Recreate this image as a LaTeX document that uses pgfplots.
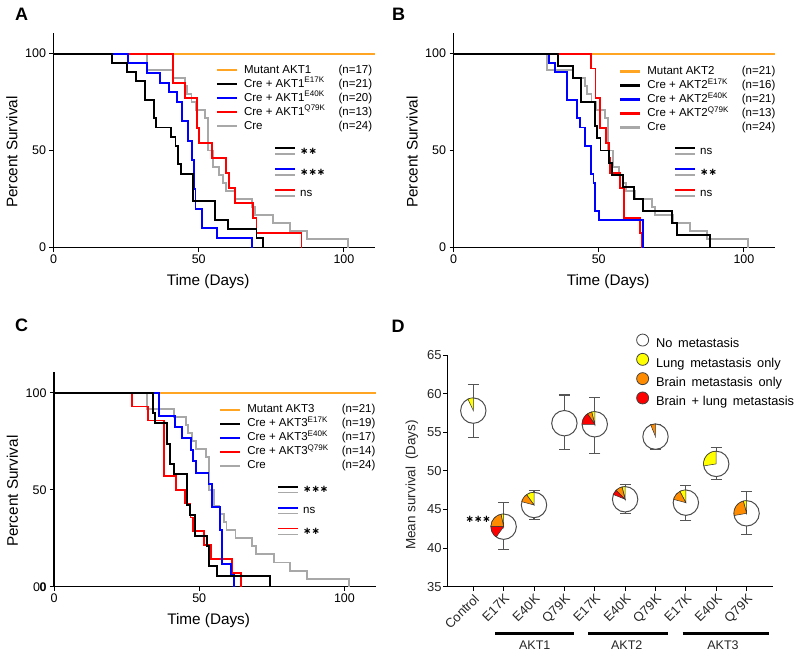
\documentclass[border=0pt]{standalone}
\usepackage{pgfplots}
\pgfplotsset{compat=1.18}
\usepackage{pgfplotstable}
\usepackage{fontspec}
\setmainfont{Liberation Sans}
\newfontfamily\djv{DejaVu Sans}

\definecolor{mutOrange}{RGB}{255,165,35}
\definecolor{creGrey}{RGB}{168,168,168}
\definecolor{kmBlue}{RGB}{0,0,255}
\definecolor{kmRed}{RGB}{255,0,0}
\definecolor{pieYellow}{RGB}{255,255,0}
\definecolor{pieOrange}{RGB}{255,140,0}
\definecolor{pieRed}{RGB}{255,0,0}
\definecolor{barGrey}{RGB}{85,85,85}

\newcommand\stars[1]{{\djv\bfseries\fontsize{10bp}{12bp}\selectfont #1}}
\newcommand\sig[1]{{\fontsize{11.5bp}{13bp}\selectfont #1}}

\pgfdeclareplotmark{blank}{}

\pgfplotsset{
  km/.style={
    scale only axis, width=321.5bp, height=214.5bp,
    xmin=0, xmax=110.7, ymin=0, ymax=110.6,
    axis lines*=left, axis line style={line width=1.5bp,-},
    xtick={0,50,100}, ytick={0,50,100},
    tick align=outside, major tick length=4bp,
    tick style={line width=1bp,black},
    tick label style={font=\fontsize{12.5bp}{14bp}\selectfont},
    /pgf/number format/assume math mode=true,
    xlabel={Time (Days)}, ylabel={Percent Survival},
    label style={font=\fontsize{15.3bp}{17bp}\selectfont},
    xlabel style={at={(axis description cs:0.481,-0.159)},anchor=center},
    ylabel style={at={(axis description cs:-0.129,0.445)},anchor=center},
    clip=false,
    legend cell align=left,
    legend image code/.code={\draw[##1, line width=2.2bp] (0bp,0bp) -- (20bp,0bp);},
    legend style={anchor=north west, draw=none, fill=none, inner sep=0pt,
      font=\fontsize{11.5bp}{13bp}\selectfont, /tikz/column sep=5bp,
      nodes={inner sep=1bp, text height=9bp, text depth=3bp}},
  },
  curve/.style={const plot, line width=1.9bp, forget plot},
  wedge/.style={
    forget plot, only marks, scatter, mark=blank, point meta=y,
    visualization depends on={\thisrow{a}\as\wa},
    visualization depends on={\thisrow{b}\as\wb},
    scatter/@pre marker code/.code={%
      \pgfmathsetmacro\wA{\wa}\pgfmathsetmacro\wB{\wb}%
      \filldraw[fill=#1, draw=black!80, line width=0.5bp]
        (0bp,0bp) -- ({\wA}:12.7bp) arc[start angle=\wA, end angle=\wB, radius=12.7bp] -- cycle;},
    scatter/@post marker code/.code={},
  },
}

% panel D: mean survival with error bars
\pgfplotstableread{
x y ep em
1 57.80 3.40 3.45
2 42.77 3.10 2.90
3 45.58 1.90 1.85
4 56.17 3.65 3.40
5 56.03 3.50 3.75
6 46.32 1.95 1.80
7 54.43 1.60 1.60
8 45.88 2.25 2.25
9 50.90 2.15 2.00
10 44.50 2.80 2.70
}\meanData

% wedge start/end angles (degrees)
\pgfplotstableread{
x y a b
1 57.80 90 115
2 42.77 90 102
3 45.58 90 126
5 56.03 90 104
6 46.32 90 104
8 45.88 90 118
9 50.90 90 189
10 44.50 90 105
}\lungOnly
\pgfplotstableread{
x y a b
2 42.77 102 178
3 45.58 126 165
5 56.03 104 125
6 46.32 104 135
7 54.43 91 112
8 45.88 118 165
10 44.50 105 190
}\brainOnly
\pgfplotstableread{
x y a b
2 42.77 178 234
5 56.03 125 180
6 46.32 135 158
}\brainLung

\begin{document}
\begin{tikzpicture}
\path[use as bounding box] (0,0) rectangle (800bp,-656bp);

% ---------------- A ----------------
\begin{axis}[km, at={(53.5bp,-247.5bp)}, anchor=south west,
  legend style={at={(axis description cs:0.5045,0.861)}}]
\addlegendimage{mutOrange}
\addlegendentry{\makebox[94.5bp][l]{Mutant AKT1}(n=17)}
\addlegendimage{black}
\addlegendentry{\makebox[94.5bp][l]{Cre + AKT1\textsuperscript{E17K}}(n=21)}
\addlegendimage{kmBlue}
\addlegendentry{\makebox[94.5bp][l]{Cre + AKT1\textsuperscript{E40K}}(n=20)}
\addlegendimage{kmRed}
\addlegendentry{\makebox[94.5bp][l]{Cre + AKT1\textsuperscript{Q79K}}(n=13)}
\addlegendimage{creGrey}
\addlegendentry{\makebox[94.5bp][l]{Cre}(n=24)}
\addplot[curve, mutOrange, line width=2bp] coordinates {(0,100)(110.7,100)};
\addplot[curve, creGrey] coordinates {(0,100)(32.1,91.7)(41.2,87.5)(45.3,83.3)(46,79.2)(47.5,75)(49,70.8)(52.2,66.7)(53.3,50)(55,41.7)(57,37.5)(58.5,33.3)(59.4,29.2)(62.5,25)(68.2,20.8)(69.4,16.7)(75.7,12.5)(81.4,8.3)(87.2,4.2)(101.5,0)};
\addplot[curve, kmRed] coordinates {(0,100)(41.3,84.6)(45.4,76.9)(49.3,61.5)(50,53.8)(54.5,46.2)(59.5,38.5)(60.4,30.8)(62.5,23.1)(68.8,15.4)(69.9,7.7)(85.4,0)};
\addplot[curve, kmBlue] coordinates {(0,100)(25.8,95)(32.1,90)(36.8,85)(39.8,80)(42.4,75)(44.3,65)(46.4,55)(47.6,45)(48.3,30)(48.9,20)(51,10)(56.2,5)(68.2,0)};
\addplot[curve, black] coordinates {(0,100)(20.1,95.2)(25.2,90.5)(28.4,85.7)(31.5,76.2)(34.6,66.7)(35.3,61.9)(40.5,57.1)(42,52.4)(43,42.9)(43.9,38.1)(48.1,23.8)(55.6,14.3)(60,9.5)(69.9,4.8)(72.2,0)};
\end{axis}

% ---------------- B ----------------
\begin{axis}[km, at={(453.5bp,-247.5bp)}, anchor=south west,
  legend style={at={(axis description cs:0.5148,0.854)}}]
\addlegendimage{mutOrange}
\addlegendentry{\makebox[94.5bp][l]{Mutant AKT2}(n=21)}
\addlegendimage{black}
\addlegendentry{\makebox[94.5bp][l]{Cre + AKT2\textsuperscript{E17K}}(n=16)}
\addlegendimage{kmBlue}
\addlegendentry{\makebox[94.5bp][l]{Cre + AKT2\textsuperscript{E40K}}(n=21)}
\addlegendimage{kmRed}
\addlegendentry{\makebox[94.5bp][l]{Cre + AKT2\textsuperscript{Q79K}}(n=13)}
\addlegendimage{creGrey}
\addlegendentry{\makebox[94.5bp][l]{Cre}(n=24)}
\addplot[curve, mutOrange, line width=2bp] coordinates {(0,100)(110.7,100)};
\addplot[curve, creGrey] coordinates {(0,100)(32.1,91.7)(41.2,87.5)(45.3,83.3)(46,79.2)(47.5,75)(49,70.8)(52.2,66.7)(53.3,50)(55,41.7)(57,37.5)(58.5,33.3)(59.4,29.2)(62.5,25)(68.2,20.8)(69.4,16.7)(75.7,12.5)(81.4,8.3)(87.2,4.2)(101.5,0)};
\addplot[curve, kmRed] coordinates {(0,100)(47.3,92.3)(48.9,76.9)(50.3,61.5)(52.6,53.8)(53.4,46.2)(54,38.5)(57.4,30.8)(58.8,15.4)(64.1,7.7)(64.9,0)};
\addplot[curve, kmBlue] coordinates {(0,100)(32.8,95.2)(34.8,90.5)(39,76.2)(42.4,66.7)(43.6,61.9)(45.3,52.4)(47.4,38.1)(48.2,33.3)(48.8,19)(50.2,14.3)(65.2,0)};
\addplot[curve, black] coordinates {(0,100)(36.1,93.75)(41.2,87.5)(44,75)(48.8,62.5)(49.4,56.25)(50.6,50)(53.4,43.75)(54.5,37.5)(58.4,31.25)(62,25)(65.2,18.75)(75.2,12.5)(77,6.25)(88.2,0)};
\end{axis}

% ---------------- C ----------------
\begin{axis}[km, at={(54bp,-586.7bp)}, anchor=south west,
  yticklabels={0\kern-0.5bp\textbf{0},50,100},
  legend style={at={(axis description cs:0.513,0.859)}}]
\addlegendimage{mutOrange}
\addlegendentry{\makebox[94.5bp][l]{Mutant AKT3}(n=21)}
\addlegendimage{black}
\addlegendentry{\makebox[94.5bp][l]{Cre + AKT3\textsuperscript{E17K}}(n=19)}
\addlegendimage{kmBlue}
\addlegendentry{\makebox[94.5bp][l]{Cre + AKT3\textsuperscript{E40K}}(n=17)}
\addlegendimage{kmRed}
\addlegendentry{\makebox[94.5bp][l]{Cre + AKT3\textsuperscript{Q79K}}(n=14)}
\addlegendimage{creGrey}
\addlegendentry{\makebox[94.5bp][l]{Cre}(n=24)}
\addplot[curve, mutOrange, line width=2bp] coordinates {(0,100)(110.7,100)};
\addplot[curve, creGrey] coordinates {(0,100)(32.1,91.7)(41.2,87.5)(45.3,83.3)(46,79.2)(47.5,75)(49,70.8)(52.2,66.7)(53.3,50)(55,41.7)(57,37.5)(58.5,33.3)(59.4,29.2)(62.5,25)(68.2,20.8)(69.4,16.7)(75.7,12.5)(81.4,8.3)(87.2,4.2)(101.5,0)};
\addplot[curve, kmRed] coordinates {(0,100)(27,92.9)(32.5,85.7)(38,57.1)(42,50)(45,42.9)(47,35.7)(48,28.6)(51.8,21.4)(54,14.3)(61.2,7.1)(64.3,0)};
\addplot[curve, kmBlue] coordinates {(0,100)(36,88.2)(41.7,82.4)(44,76.5)(47.2,70.6)(48,64.7)(48.8,58.8)(53.2,52.9)(54.4,41.2)(57.2,29.4)(58,11.8)(61,5.9)(61.9,0)};
\addplot[curve, black] coordinates {(0,100)(34.2,89.5)(34.8,84.2)(38.9,73.7)(40,63.2)(41.2,57.9)(45.8,42.1)(46.9,36.8)(48.6,26.3)(52.6,21.1)(53.4,10.5)(56.1,5.3)(74.5,0)};
\end{axis}

% ---------------- D ----------------
\begin{axis}[at={(447.3bp,-586.7bp)}, anchor=south west,
  scale only axis, width=325.4bp, height=231.7bp,
  xmin=0.144, xmax=10.86, ymin=35, ymax=65,
  axis lines*=left, axis line style={line width=1.5bp,-},
  xtick={1,...,10},
  xticklabels={Control,E17K,E40K,Q79K,E17K,E40K,Q79K,E17K,E40K,Q79K},
  ytick={35,40,...,65},
  tick align=outside, major tick length=4bp,
  tick style={line width=1bp,black},
  /pgf/number format/assume math mode=true,
  yticklabel style={font=\fontsize{13bp}{15bp}\selectfont, text=black!85, inner sep=1.5bp},
  xticklabel style={font=\fontsize{13bp}{15bp}\selectfont, text=black!85,
    rotate=45, anchor=north east, inner sep=1bp},
  xticklabel shift=1bp,
  ylabel={Mean survival\hspace{0.5em}(Days)},
  ylabel style={at={(axis description cs:-0.109,0.439)}, anchor=center,
    font=\fontsize{13.5bp}{15bp}\selectfont, text=black!85},
  clip=false,
  legend cell align=left,
  legend style={at={(axis description cs:0.58,1.093)}, anchor=north west,
    draw=none, fill=none, inner sep=0pt, /tikz/column sep=6bp,
    font=\fontsize{12.8bp}{14bp}\selectfont,
    nodes={inner sep=1bp, text height=11bp, text depth=4.2bp}}]
\addlegendimage{legend image code/.code={\filldraw[fill=white,draw=black!75,line width=0.8bp] (6bp,4.3bp) circle[radius=6bp];}}
\addlegendentry{No\hspace{0.45em}metastasis}
\addlegendimage{legend image code/.code={\filldraw[fill=pieYellow,draw=black!75,line width=0.8bp] (6bp,4.3bp) circle[radius=6bp];}}
\addlegendentry{Lung\hspace{0.45em}metastasis\hspace{0.45em}only}
\addlegendimage{legend image code/.code={\filldraw[fill=pieOrange,draw=black!75,line width=0.8bp] (6bp,4.3bp) circle[radius=6bp];}}
\addlegendentry{Brain\hspace{0.45em}metastasis\hspace{0.45em}only}
\addlegendimage{legend image code/.code={\filldraw[fill=pieRed,draw=black!75,line width=0.8bp] (6bp,4.3bp) circle[radius=6bp];}}
\addlegendentry{Brain\hspace{0.45em}+\hspace{0.3em}lung\hspace{0.45em}metastasis}
\addplot[forget plot, only marks, mark=blank,
  error bars/.cd, y dir=both, y explicit,
  error bar style={line width=1.1bp, barGrey},
  error mark options={rotate=90, mark size=5.5bp, line width=1.1bp, barGrey}]
  table[x=x, y=y, y error plus=ep, y error minus=em] {\meanData};
\addplot[forget plot, only marks, mark=*, mark size=12.7bp,
  mark options={fill=white, draw=black!70, line width=1bp}]
  table[x=x, y=y] {\meanData};
\addplot[wedge=pieYellow] table[x=x, y=y] {\lungOnly};
\addplot[wedge=pieOrange] table[x=x, y=y] {\brainOnly};
\addplot[wedge=pieRed] table[x=x, y=y] {\brainLung};
\end{axis}

% significance keys
\foreach \ox/\oy/\sa/\sb/\sc in {0/0/\stars{∗∗}/\stars{∗∗∗}/\sig{ns}, 400/0/\sig{ns}/\stars{∗∗}/\sig{ns}, 3/338.5/\stars{∗∗∗}/\sig{ns}/\stars{∗∗}}{
  \begin{scope}[xshift=\ox bp, yshift=-\oy bp]
    \draw[black, line width=1.9bp] (275bp,-148.3bp) -- (295bp,-148.3bp);
    \draw[creGrey, line width=1.9bp] (275bp,-154bp) -- (295bp,-154bp);
    \node[anchor=west, inner sep=0pt] at (300bp,-151.2bp) {\sa};
    \draw[kmBlue, line width=1.9bp] (275bp,-169.3bp) -- (295bp,-169.3bp);
    \draw[creGrey, line width=1.9bp] (275bp,-175bp) -- (295bp,-175bp);
    \node[anchor=west, inner sep=0pt] at (300bp,-172.2bp) {\sb};
    \draw[kmRed, line width=1.9bp] (275bp,-190bp) -- (295bp,-190bp);
    \draw[creGrey, line width=1.9bp] (275bp,-196bp) -- (295bp,-196bp);
    \node[anchor=west, inner sep=0pt] at (300bp,-193bp) {\sc};
  \end{scope}
}

% D annotations
\node[anchor=east, inner sep=0pt] at (491bp,-519bp) {\stars{∗∗∗}};
\draw[line width=3.3bp] (495bp,-633.3bp) -- (574bp,-633.3bp);
\draw[line width=3.3bp] (588.3bp,-633.3bp) -- (668.3bp,-633.3bp);
\draw[line width=3.3bp] (682.7bp,-633.3bp) -- (769.3bp,-633.3bp);
\node[font=\fontsize{12.5bp}{14bp}\selectfont, text=black!85] at (534.7bp,-645.5bp) {AKT1};
\node[font=\fontsize{12.5bp}{14bp}\selectfont, text=black!85] at (626.7bp,-645.5bp) {AKT2};
\node[font=\fontsize{12.5bp}{14bp}\selectfont, text=black!85] at (723bp,-645.5bp) {AKT3};

% panel letters
\foreach \lx/\ly/\lt in {21.7/14/A, 398.5/14/B, 21.7/325.5/C, 398/326/D}{
  \node[font=\fontsize{18bp}{18bp}\selectfont\bfseries] at (\lx bp,-\ly bp) {\lt};
}
\end{tikzpicture}
\end{document}
